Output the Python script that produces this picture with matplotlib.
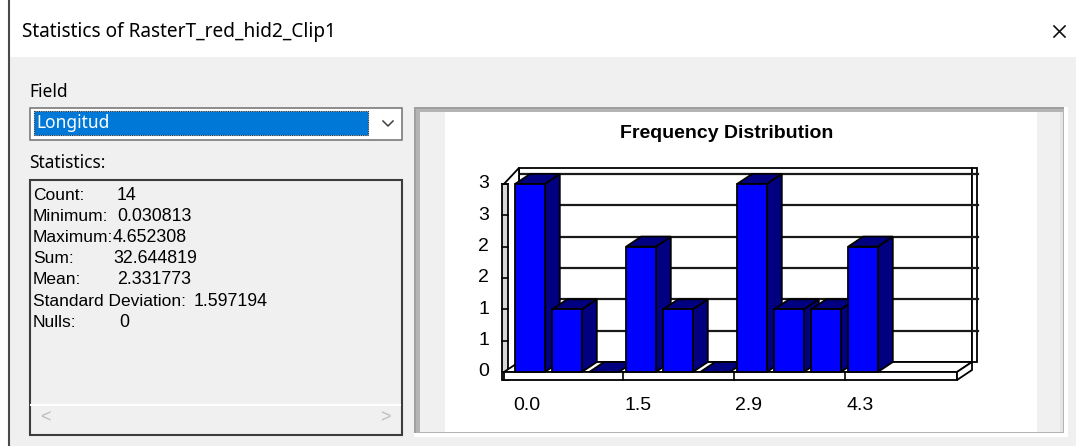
import matplotlib
matplotlib.use("Agg")
import matplotlib.pyplot as plt
from matplotlib.patches import Rectangle, Polygon

# ---------------- data ----------------
window_title = "Statistics of RasterT_red_hid2_Clip1"
field_label = "Field"
field_value = "Longitud"
stats_heading = "Statistics:"
stat_labels = ["Count:", "Minimum:", "Maximum:", "Sum:", "Mean:", "Standard Deviation:", "Nulls:"]
stat_values = ["14", "0.030813", "4.652308", "32.644819", "2.331773", "1.597194", "0"]
chart_title = "Frequency Distribution"
frequencies = [3, 1, 0, 2, 1, 0, 3, 1, 1, 2]
x_tick_positions = [0, 3, 6, 9]
x_tick_labels = ["0.0", "1.5", "2.9", "4.3"]
y_tick_values = [0, 0.5, 1, 1.5, 2, 2.5, 3]
y_tick_labels = ["0", "1", "1", "2", "2", "3", "3"]

# ---------------- figure ----------------
W_PX, H_PX = 1076, 446
fig = plt.figure(figsize=(W_PX / 100, H_PX / 100), dpi=100)
bg = fig.add_axes([0, 0, 1, 1])
bg.set_xlim(0, W_PX)
bg.set_ylim(H_PX, 0)
bg.axis("off")

UI_FONT = ["Noto Sans", "DejaVu Sans"]
CLASSIC_FONT = ["Liberation Sans", "DejaVu Sans"]

# window background
bg.add_patch(Rectangle((0, 0), W_PX, H_PX, fc="#f0f0f0", ec="none"))
bg.add_patch(Rectangle((0, 0), W_PX, 57, fc="white", ec="none"))
bg.add_patch(Rectangle((0, 0), 8, H_PX, fc="white", ec="none"))
bg.plot([8.5, 8.5], [0, H_PX], color="#4a4a4a", lw=1.5)

# title bar
bg.text(22, 32, window_title, fontsize=13.7, family=UI_FONT, va="center", ha="left", color="#000000")
bg.plot([1054, 1065], [26, 37], color="#111111", lw=1.2)
bg.plot([1054, 1065], [37, 26], color="#111111", lw=1.2)

# Field combobox
bg.text(29, 92, field_label, fontsize=12.5, family=UI_FONT, va="center", ha="left")
bg.add_patch(Rectangle((29.5, 107.5), 372, 32, fc="white", ec="#7a7a7a", lw=1.2))
bg.add_patch(Rectangle((34, 111), 334, 24, fc="#0078d7", ec="#303030", lw=0.8, ls=(0, (1, 1))))
bg.text(36, 123, field_value, fontsize=12.5, family=UI_FONT, va="center", ha="left", color="white")
bg.plot([383, 388, 393], [121, 126, 121], color="#404040", lw=1.1)

# Statistics box
bg.text(29, 163, stats_heading, fontsize=12.5, family=UI_FONT, va="center", ha="left")
bg.add_patch(Rectangle((29.5, 179.5), 372, 255, fc="#f0f0f0", ec="#3c3c3c", lw=1.5))
bg.plot([31, 400], [405, 405], color="white", lw=1.5)
bg.text(45, 418, "<", fontsize=13, family=CLASSIC_FONT, va="center", ha="center", color="#bdbdbd")
bg.text(385, 418, ">", fontsize=13, family=CLASSIC_FONT, va="center", ha="center", color="#bdbdbd")

value_x = [117, 117, 113, 113, 117, 194, 119]
for i, (lab, val) in enumerate(zip(stat_labels, stat_values)):
    y = 195 + 21.2 * i
    bg.text(33, y, lab, fontsize=12.5, family=CLASSIC_FONT, va="center", ha="left", color="#000000")
    bg.text(value_x[i], y, val, fontsize=12.8, family=CLASSIC_FONT, va="center", ha="left", color="#000000")

# chart panel frame (sunken)
bg.add_patch(Rectangle((414, 107), 654, 330, fc="white", ec="none"))
bg.add_patch(Rectangle((414, 107), 650, 326, fc="#a0a0a0", ec="none"))
bg.add_patch(Rectangle((416, 109), 648, 324, fc="#b4b4b4", ec="none"))
bg.add_patch(Rectangle((420, 112), 643, 320, fc="#f0f0f0", ec="none"))
bg.add_patch(Rectangle((1060, 112), 3, 320, fc="#e4e4e4", ec="none"))

# ---------------- chart axes ----------------
PLOT_L, PLOT_R, PLOT_T, PLOT_B = 445, 1037, 112, 432
X0_PX, PX = 530.0, 37.0     # pixel of first bar centre, pixels per bar slot
Y0_PX, PY = 372.0, 62.7     # pixel of count 0, pixels per count
ax = fig.add_axes([PLOT_L / W_PX, 1 - PLOT_B / H_PX, (PLOT_R - PLOT_L) / W_PX, (PLOT_B - PLOT_T) / H_PX])
ax.set_xlim((PLOT_L - X0_PX) / PX, (PLOT_R - X0_PX) / PX)
ax.set_ylim((Y0_PX - PLOT_B) / PY, (Y0_PX - PLOT_T) / PY)
ax.set_facecolor("white")
ax.set_xticks([])
ax.set_yticks([])
for s in ax.spines.values():
    s.set_visible(False)

fig.text(727 / W_PX, 1 - 134 / H_PX, chart_title, fontsize=14, family=CLASSIC_FONT, weight="bold",
         va="center", ha="center", color="#000000")

DX, DY = 15 / PX, 10 / PY
SLAB = 8 / PY
FRONT_L = -26 / PX
FRONT_R = 427 / PX
YTOP = max(y_tick_values)
TOPPAD = 6 / PY
BAR_W = 0.8
EDGE = "#000000"
LW = 1.3

# back wall
ax.add_patch(Rectangle((FRONT_L + DX, DY), FRONT_R - FRONT_L, YTOP + TOPPAD, fc="white", ec=EDGE, lw=LW, zorder=1))
ax.add_patch(Rectangle((FRONT_R + DX, DY), 5 / PX, YTOP + TOPPAD, fc="white", ec=EDGE, lw=LW, zorder=1))
for v in y_tick_values[1:]:
    ax.plot([FRONT_L + DX, FRONT_R + DX + 6 / PX], [v + DY, v + DY], color="#1a1a1a", lw=1.6, zorder=1.5)

# left wall
ax.add_patch(Polygon([(FRONT_L, -SLAB), (FRONT_L, YTOP), (FRONT_L + DX, YTOP + DY + TOPPAD), (FRONT_L + DX, DY)],
                     closed=True, fc="white", ec=EDGE, lw=LW, zorder=2))
ax.add_patch(Rectangle((FRONT_L - 2 / PX, -SLAB), 6 / PX, YTOP + SLAB, fc="#d8d8d8", ec=EDGE, lw=LW, zorder=2.5))
for v in y_tick_values:
    ax.plot([FRONT_L - 2 / PX, FRONT_L + 4 / PX], [v, v], color=EDGE, lw=1.2, zorder=2.6)

# floor
ax.add_patch(Polygon([(FRONT_L, 0), (FRONT_R, 0), (FRONT_R + DX, DY), (FRONT_L + DX, DY)],
                     closed=True, fc="white", ec=EDGE, lw=LW, zorder=3))
ax.add_patch(Rectangle((FRONT_L, -SLAB), FRONT_R - FRONT_L, SLAB, fc="white", ec=EDGE, lw=LW, zorder=3))
ax.add_patch(Polygon([(FRONT_R, -SLAB), (FRONT_R, 0), (FRONT_R + DX, DY), (FRONT_R + DX, DY - SLAB)],
                     closed=True, fc="white", ec=EDGE, lw=LW, zorder=3))
for p in x_tick_positions[1:]:
    ax.plot([p - 0.5, p - 0.5], [-SLAB, 0], color=EDGE, lw=1.2, zorder=3.1)

# bars
FRONT_C, DARK_C = "#0000ff", "#000080"
for i, v in enumerate(frequencies):
    z = 5 + i
    l, r = i - BAR_W / 2, i + BAR_W / 2
    if v > 0:
        ax.add_patch(Polygon([(r, 0), (r, v), (r + DX, v + DY), (r + DX, DY)],
                             closed=True, fc=DARK_C, ec=EDGE, lw=LW, zorder=z))
        ax.add_patch(Rectangle((l, 0), BAR_W, v, fc=FRONT_C, ec=EDGE, lw=LW, zorder=z + 0.2))
    ax.add_patch(Polygon([(l, v), (r, v), (r + DX, v + DY), (l + DX, v + DY)],
                         closed=True, fc=DARK_C, ec=EDGE, lw=LW, zorder=z + 0.1))

# tick labels
for v, lab in zip(y_tick_values, y_tick_labels):
    ax.text(FRONT_L - 15 / PX, v, lab, fontsize=14, family=CLASSIC_FONT, ha="right", va="center", color="#000000")
for p, lab in zip(x_tick_positions, x_tick_labels):
    ax.text(p - 3 / PX, -33 / PY, lab, fontsize=14, family=CLASSIC_FONT, ha="center", va="center", color="#000000")

fig.savefig("out.png", dpi=100)
